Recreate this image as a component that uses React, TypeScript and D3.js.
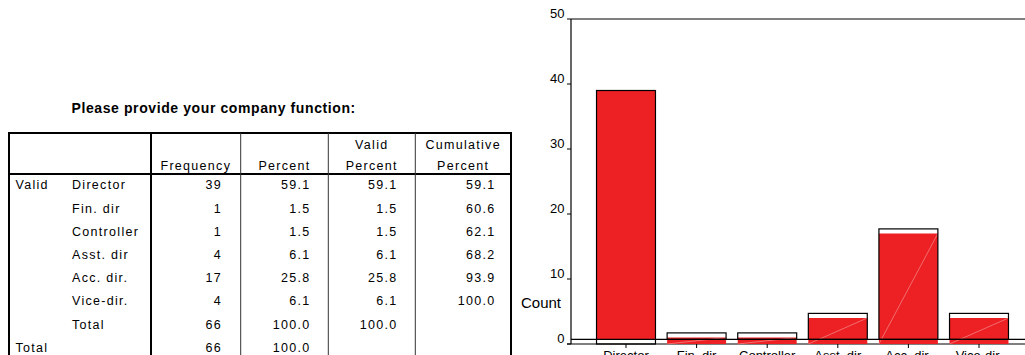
import React from "react";
import * as d3 from "d3";

const categories = ["Director", "Fin. dir", "Controller", "Asst. dir", "Acc. dir.", "Vice-dir."];
const frequency = [39, 1, 1, 4, 17, 4];
const percent = ["59.1", "1.5", "1.5", "6.1", "25.8", "6.1"];
const validPercent = ["59.1", "1.5", "1.5", "6.1", "25.8", "6.1"];
const cumulative = ["59.1", "60.6", "62.1", "68.2", "93.9", "100.0"];
const validTotal = { frequency: "66", percent: "100.0", validPercent: "100.0" };
const grandTotal = { frequency: "66", percent: "100.0" };
const yTicks = [0, 10, 20, 30, 40, 50];
const title = "Please provide your company function:";

const W = 1025;
const H = 355;
const RED = "#ed2024";
const FONT = "Arial, 'Liberation Sans', Helvetica, sans-serif";

export default function App() {
  // ---------- chart ----------
  const y = d3.scaleLinear().domain([0, 50]).range([344, 19]);
  const x = d3
    .scaleBand<string>()
    .domain(categories)
    .range([571, 1034])
    .paddingInner(0.165)
    .paddingOuter(0.3615);
  const axisX = 571;
  const shadowY = y(0) - 4.6;
  const shadowOff = y(0) - shadowY;

  // ---------- table ----------
  const colX = [9, 151, 240.7, 328.3, 415.3, 511];
  const tTop = 133;
  const headBottom = 174;
  const rowY0 = 189.3;
  const rowStep = 23.2;
  const numRight = [222, 310.5, 397.5, 495.5];
  const tStyle: React.CSSProperties = { fontFamily: FONT, fontSize: 12.5, letterSpacing: 1.3 };

  const rows = categories.map((c, i) => ({
    label: c,
    vals: [String(frequency[i]), percent[i], validPercent[i], cumulative[i]],
  }));
  rows.push({ label: "Total", vals: [validTotal.frequency, validTotal.percent, validTotal.validPercent, ""] });

  return (
    <svg
      width={W}
      height={H}
      style={{ position: "absolute", left: 0, top: 0, background: "#fff" }}
      xmlns="http://www.w3.org/2000/svg"
    >
      <rect x={0} y={0} width={W} height={H} fill="#fff" />
      {/* Title */}
      <text x={71.5} y={112.5} style={{ fontFamily: FONT, fontSize: 14, fontWeight: "bold", letterSpacing: 0.6 }} fill="#000">
        {title}
      </text>

      {/* Table lines */}
      <g>
        <line x1={colX[0] - 1} x2={colX[5] + 1} y1={tTop} y2={tTop} stroke="#000" strokeWidth={2} />
        <line x1={colX[0] - 1} x2={colX[5] + 1} y1={headBottom} y2={headBottom} stroke="#000" strokeWidth={2} />
        <line x1={colX[0]} x2={colX[0]} y1={tTop} y2={H} stroke="#000" strokeWidth={2} />
        <line x1={colX[1]} x2={colX[1]} y1={tTop} y2={H} stroke="#000" strokeWidth={2} />
        <line x1={colX[5]} x2={colX[5]} y1={tTop} y2={H} stroke="#000" strokeWidth={2} />
        {[colX[2], colX[3], colX[4]].map((cx, i) => (
          <line key={i} x1={cx} x2={cx} y1={tTop} y2={H} stroke="#333" strokeWidth={1} />
        ))}
      </g>

      {/* Table header */}
      <g style={tStyle} fill="#000" textAnchor="middle">
        <text x={(colX[3] + colX[4]) / 2} y={149.3}>Valid</text>
        <text x={(colX[4] + colX[5]) / 2} y={149.3}>Cumulative</text>
        <text x={(colX[1] + colX[2]) / 2} y={170}>Frequency</text>
        <text x={(colX[2] + colX[3]) / 2} y={170}>Percent</text>
        <text x={(colX[3] + colX[4]) / 2} y={170}>Percent</text>
        <text x={(colX[4] + colX[5]) / 2} y={170}>Percent</text>
      </g>

      {/* Table body */}
      <g style={tStyle} fill="#000">
        <text x={15.5} y={rowY0}>Valid</text>
        {rows.map((r, i) => (
          <g key={i}>
            <text x={72} y={rowY0 + i * rowStep}>{r.label}</text>
            {r.vals.map((v, j) => (
              <text key={j} x={numRight[j]} y={rowY0 + i * rowStep} textAnchor="end">
                {v}
              </text>
            ))}
          </g>
        ))}
        <text x={15.5} y={rowY0 + 7 * rowStep}>Total</text>
        <text x={numRight[0]} y={rowY0 + 7 * rowStep} textAnchor="end">{grandTotal.frequency}</text>
        <text x={numRight[1]} y={rowY0 + 7 * rowStep} textAnchor="end">{grandTotal.percent}</text>
      </g>

      {/* Chart: x axis baseline */}
      <line x1={axisX - 4} x2={W} y1={y(0)} y2={y(0)} stroke="#000" strokeWidth={1.2} />

      {/* Red fills */}
      {categories.map((c, i) => {
        const v = frequency[i];
        const x0 = x(c)!;
        const bw = x.bandwidth();
        const isFirst = i === 0;
        const top = y(v);
        const bottom = isFirst ? shadowY : y(0);
        return <rect key={"f" + c} x={x0} y={top} width={bw} height={bottom - top} fill={RED} />;
      })}

      {/* faint triangle seams */}
      {categories.map((c, i) => {
        if (i === 0) return null;
        const x0 = x(c)!;
        const bw = x.bandwidth();
        return (
          <line
            key={"s" + c}
            x1={x0}
            y1={y(0)}
            x2={x0 + bw}
            y2={y(frequency[i])}
            stroke="#f59a9a"
            strokeWidth={0.8}
            opacity={0.8}
          />
        );
      })}

      {/* shadow baseline */}
      <line x1={axisX} x2={W} y1={shadowY} y2={shadowY} stroke="#000" strokeWidth={1.2} />

      {/* Outlines */}
      {categories.map((c, i) => {
        const v = frequency[i];
        const x0 = x(c)!;
        const bw = x.bandwidth();
        const isFirst = i === 0;
        const top = isFirst ? y(v) : y(v) - shadowOff;
        const bottom = isFirst ? y(0) : shadowY;
        return (
          <rect
            key={"o" + c}
            x={x0}
            y={top}
            width={bw}
            height={bottom - top}
            fill="none"
            stroke="#000"
            strokeWidth={1.2}
          />
        );
      })}

      {/* y axis and frame top */}
      <line x1={axisX} x2={axisX} y1={y(50)} y2={y(0)} stroke="#000" strokeWidth={1.2} />
      <line x1={axisX} x2={W} y1={y(50)} y2={y(50)} stroke="#000" strokeWidth={1.2} />

      {/* y ticks */}
      <g style={{ fontFamily: FONT, fontSize: 13 }} fill="#000">
        {yTicks.map((t) => (
          <g key={t}>
            <line x1={axisX - 4} x2={axisX} y1={y(t)} y2={y(t)} stroke="#000" strokeWidth={1} />
            <text x={564.5} y={y(t) - 1.5} textAnchor="end">
              {t}
            </text>
          </g>
        ))}
      </g>
      <text x={521} y={307.5} style={{ fontFamily: FONT, fontSize: 15 }} fill="#000">
        Count
      </text>

      {/* x ticks and labels */}
      <g style={{ fontFamily: FONT, fontSize: 13 }} fill="#000">
        {categories.map((c) => {
          const cx = x(c)! + x.bandwidth() / 2;
          return (
            <g key={"x" + c}>
              <line x1={cx} x2={cx} y1={y(0)} y2={y(0) + 4} stroke="#000" strokeWidth={1} />
              <text x={cx} y={359.5} textAnchor="middle">
                {c}
              </text>
            </g>
          );
        })}
      </g>
    </svg>
  );
}
